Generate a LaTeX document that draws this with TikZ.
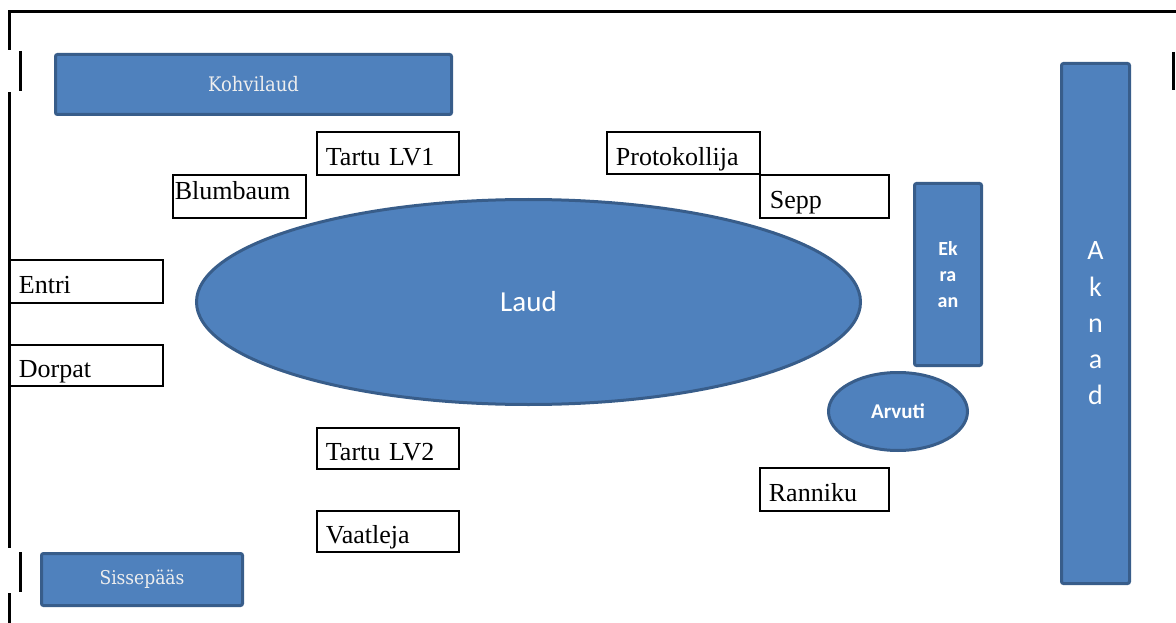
\documentclass[tikz,border=0pt]{standalone}
\usepackage{fontspec}
\setmainfont{Liberation Serif}
\newfontfamily\calfont{Carlito}
\newfontfamily\dvcfont{DejaVu Serif Condensed}
\usetikzlibrary{shapes.geometric}
\definecolor{bfill}{HTML}{4F81BD}
\definecolor{bline}{HTML}{385D8A}
\definecolor{btxt}{HTML}{EEEEEE}
\begin{document}
\begin{tikzpicture}[x=1pt,y=-1pt,
 wall/.style={line width=3pt},
 bshape/.style={fill=bfill, draw=bline, line width=3pt},
 blurect/.style={bshape, rectangle, rounded corners=2pt, anchor=north west, inner sep=0pt, align=center},
 seat/.style={draw=black, line width=1.8pt, rectangle, anchor=north west, align=left,
   inner xsep=9pt, inner ysep=0pt, text height=28pt, text depth=3pt, minimum height=43pt,
   font=\fontsize{26}{30}\selectfont},
]
\useasboundingbox (0,0) rectangle (1176,623);
% walls
\draw[wall, line join=miter] (9,50) -- (9,11.5) -- (1176,11.5);
\draw[wall] (9,92) -- (9,548);
\draw[wall] (9,593) -- (9,623);
\draw[wall] (20,51) -- (20,91);
\draw[wall] (20,552) -- (20,592);
\draw[wall] (1173,52) -- (1173,90);
% furniture
\node[blurect, minimum width=396pt, minimum height=60pt, text=btxt,
  font=\dvcfont\fontsize{20}{24}\selectfont] (kohv) at (54,53) {Kohvilaud};
\node[blurect, minimum width=201pt, minimum height=52pt, text=btxt,
  font=\dvcfont\fontsize{19}{22}\selectfont] (siss) at (40,552) {Sissepääs};
\node[blurect, minimum width=67pt, minimum height=182pt, text=white,
  font=\calfont\bfseries\fontsize{20}{26}\selectfont] (ekr) at (913,182) {Ek\\ra\\an};
\node[blurect, minimum width=68pt, minimum height=520pt, text=white,
  font=\calfont\fontsize{28}{36.3}\selectfont] (akn) at (1060,62) {A\\k\\n\\a\\d};
\node[bshape, ellipse, inner sep=0pt, minimum width=664pt, minimum height=205pt, text=white,
  font=\calfont\fontsize{29}{34}\selectfont] (laud) at (528.5,302) {Laud};
\node[bshape, ellipse, inner sep=0pt, minimum width=139pt, minimum height=78pt, text=white,
  font=\calfont\bfseries\fontsize{21}{24}\selectfont] (arv) at (898,411.5) {Arvuti};
% seats
\node[seat, text width=124pt] (lv1) at (316,131) {Tartu LV1};
\node[seat, text width=129pt, inner xsep=2pt, text height=18pt, text depth=11pt] (blum) at (172,174) {Blumbaum};
\node[seat, text width=135pt, minimum height=42pt] (prot) at (606,131) {Protokollija};
\node[seat, inner xsep=10pt, text width=109pt] (sepp) at (759,174) {Sepp};
\node[seat, text width=135pt] (entri) at (9,259) {Entri};
\node[seat, text width=135pt, minimum height=41pt] (dorp) at (9,344) {Dorpat};
\node[seat, text width=124pt, minimum height=41pt] (lv2) at (316,427) {Tartu LV2};
\node[seat, text width=124pt, minimum height=41pt] (vaat) at (316,510) {Vaatleja};
\node[seat, text width=111pt] (rann) at (759,467) {Ranniku};
\end{tikzpicture}
\end{document}
